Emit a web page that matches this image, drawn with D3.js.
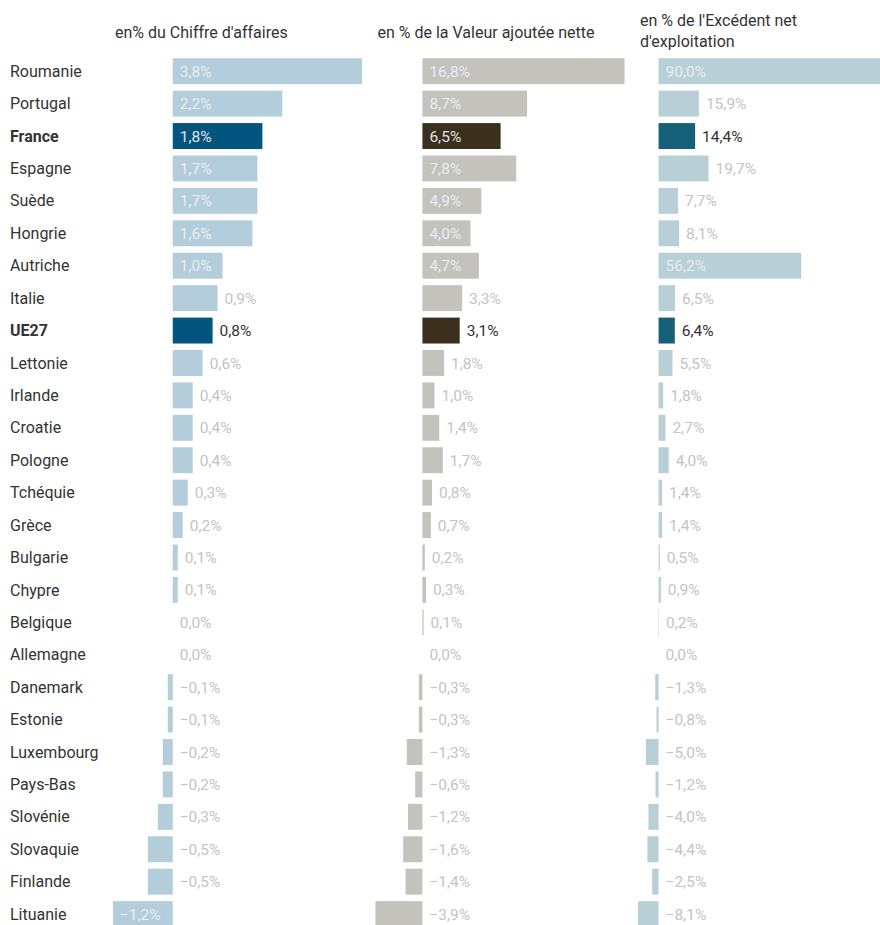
<!DOCTYPE html>
<html lang="fr">
<head>
<meta charset="utf-8">
<script src="https://cdn.jsdelivr.net/npm/d3@7"></script>
<style>
  html, body { margin: 0; padding: 0; background: #fff; }
  svg { display: block; font-family: Roboto, "Noto Sans", sans-serif; }
</style>
</head>
<body>
<svg id="chart" width="880" height="925"></svg>
<script>
// Pays, dans l'ordre d'affichage
const countries = ["Roumanie", "Portugal", "France", "Espagne", "Suède", "Hongrie", "Autriche",
  "Italie", "UE27", "Lettonie", "Irlande", "Croatie", "Pologne", "Tchéquie", "Grèce", "Bulgarie",
  "Chypre", "Belgique", "Allemagne", "Danemark", "Estonie", "Luxembourg", "Pays-Bas", "Slovénie",
  "Slovaquie", "Finlande", "Lituanie"];

// Lignes mises en avant
const highlighted = ["France", "UE27"];

// en % du chiffre d'affaires
const chiffreAffaires = [3.8, 2.2, 1.8, 1.7, 1.7, 1.6, 1.0, 0.9, 0.8, 0.6, 0.4, 0.4, 0.4, 0.3, 0.2,
  0.1, 0.1, 0.0, 0.0, -0.1, -0.1, -0.2, -0.2, -0.3, -0.5, -0.5, -1.2];

// en % de la valeur ajoutée nette
const valeurAjoutee = [16.8, 8.7, 6.5, 7.8, 4.9, 4.0, 4.7, 3.3, 3.1, 1.8, 1.0, 1.4, 1.7, 0.8, 0.7,
  0.2, 0.3, 0.1, 0.0, -0.3, -0.3, -1.3, -0.6, -1.2, -1.6, -1.4, -3.9];

// en % de l'excédent net d'exploitation
const excedentNet = [90.0, 15.9, 14.4, 19.7, 7.7, 8.1, 56.2, 6.5, 6.4, 5.5, 1.8, 2.7, 4.0, 1.4, 1.4,
  0.5, 0.9, 0.2, 0.0, -1.3, -0.8, -5.0, -1.2, -4.0, -4.4, -2.5, -8.1];

// Titres des colonnes (une entrée par ligne de texte)
const titles = [
  ["en% du Chiffre d'affaires"],
  ["en % de la Valeur ajoutée nette"],
  ["en % de l'Excédent net", "d'exploitation"]
];

const columns = [
  { values: chiffreAffaires, light: "#b3cdda", dark: "#03557f" },
  { values: valeurAjoutee,   light: "#c3c2bd", dark: "#3a301d" },
  { values: excedentNet,     light: "#b8cfd6", dark: "#176079" }
];

const svg = d3.select("#chart");

const fr = d3.formatLocale({ decimal: ",", thousands: " ", grouping: [3], currency: ["", " €"], minus: "\u2212" });
const fmt = v => fr.format(".1f")(v) + "%";

const y = d3.scaleBand()
  .domain(countries)
  .range([55, 930.3])
  .paddingInner(0.2)
  .paddingOuter(0.1);

// Noms de pays
svg.append("g")
  .selectAll("text")
  .data(countries)
  .join("text")
  .attr("x", 10)
  .attr("y", d => y(d) + y.bandwidth() / 2)
  .attr("dy", "0.35em")
  .attr("font-size", 16)
  .attr("font-weight", d => highlighted.includes(d) ? 700 : 400)
  .attr("fill", "#333")
  .text(d => d);

const colStart = 113, colWidth = 249, colStep = 262.5;
const pad = 7;

columns.forEach((col, ci) => {
  const x0 = colStart + ci * colStep;
  const x = d3.scaleLinear()
    .domain(d3.extent(col.values))
    .range([x0, x0 + colWidth]);

  const g = svg.append("g");

  // Titre
  const t = g.append("text")
    .attr("x", x0 + 2)
    .attr("font-size", 16)
    .attr("fill", "#333");
  const lines = titles[ci];
  t.selectAll("tspan")
    .data(lines)
    .join("tspan")
    .attr("x", x0 + 2)
    .attr("y", (d, i) => lines.length === 1 ? 38 : 26 + i * 21)
    .text(d => d);

  const rows = countries.map((c, i) => ({ c, v: col.values[i], hi: highlighted.includes(c) }));

  g.selectAll("rect")
    .data(rows)
    .join("rect")
    .attr("x", d => Math.min(x(0), x(d.v)))
    .attr("y", d => y(d.c))
    .attr("width", d => Math.abs(x(d.v) - x(0)))
    .attr("height", y.bandwidth())
    .attr("fill", d => d.hi ? col.dark : col.light);

  const labels = g.selectAll("text.val")
    .data(rows)
    .join("text")
    .attr("class", "val")
    .attr("y", d => y(d.c) + y.bandwidth() / 2)
    .attr("dy", "0.36em")
    .attr("font-size", 15.5)
    .text(d => fmt(d.v));

  // Étiquette dans la barre si elle y tient, sinon à droite
  labels.each(function(d) {
    const w = this.getComputedTextLength();
    const barW = Math.abs(x(d.v) - x(0));
    const inside = barW > w + 2 * pad;
    const sel = d3.select(this);
    if (inside) {
      sel.attr("x", Math.min(x(0), x(d.v)) + pad)
        .attr("fill", d.hi ? "#e4e4e4" : "#e6eef1");
    } else {
      sel.attr("x", (d.v > 0 ? x(d.v) : x(0)) + pad)
        .attr("fill", d.hi ? "#333" : "#c4c4c4");
    }
  });
});
</script>
</body>
</html>
